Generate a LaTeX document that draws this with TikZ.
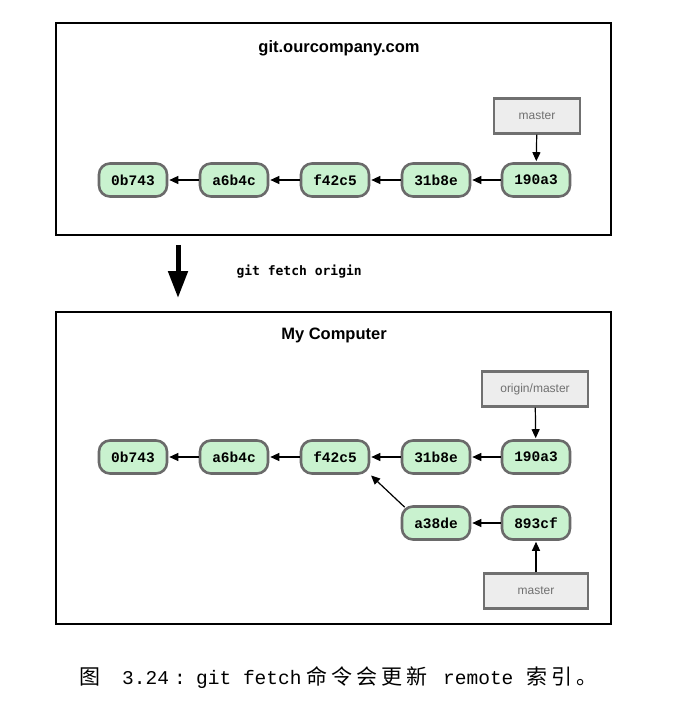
\documentclass[tikz,border=0pt]{standalone}
\usepackage{fontspec}
\setmainfont{Liberation Serif}
\newfontfamily\sansf{Liberation Sans}
\newfontfamily\commitf{Liberation Mono}
\newfontfamily\cmdf{DejaVu Sans Mono}
\newfontfamily\cjkf{Noto Sans CJK SC}
\usetikzlibrary{arrows.meta}
\definecolor{commitfill}{HTML}{C9F2CF}
\definecolor{commitdraw}{HTML}{6A6A6A}
\definecolor{reffill}{HTML}{EDEDED}
\definecolor{refdraw}{HTML}{707070}
\definecolor{reftext}{HTML}{707070}
\newcommand\cg{\hspace{4pt}}
\tikzset{
  commit/.style={draw=commitdraw, fill=commitfill, line width=2.6pt, rounded corners=11pt,
    minimum width=68pt, minimum height=33pt, inner sep=0pt,
    font=\commitf\bfseries\fontsize{14.5}{15}\selectfont},
  ref/.style={draw=refdraw, fill=reffill, line width=2.2pt, minimum height=35pt, inner sep=0pt,
    text=reftext, font=\sansf\fontsize{12}{13}\selectfont},
  frame/.style={draw=black, line width=1.6pt},
  title/.style={font=\sansf\bfseries\fontsize{16.5}{18}\selectfont},
  link/.style={-{Triangle[length=9pt,width=8pt]}, line width=1.2pt, shorten >=1pt},
  capl/.style={anchor=base west, inner sep=0pt, font=\commitf\fontsize{19.5}{22}\selectfont},
  capc/.style={anchor=base west, inner sep=0pt, font=\cjkf\fontsize{21}{22}\selectfont},
}
\begin{document}
\begin{tikzpicture}[x=1pt,y=-1pt]
\useasboundingbox (0,0) rectangle (674,708);
% top box
\node[frame, minimum width=555pt, minimum height=212pt, inner sep=0pt] (top) at (333.5,129) {};
\node[title] (t1) at (339,48) {git.ourcompany.com};
\node[commit] (a1) at (133,180) {0b743};
\node[commit] (b1) at (234,180) {a6b4c};
\node[commit] (c1) at (335,180) {f42c5};
\node[commit] (d1) at (436,180) {31b8e};
\node[commit] (e1) at (536,180) {190a3};
\node[ref, minimum width=86pt] (m1) at (537,116) {master};
\draw[link] (b1) -- (a1);
\draw[link] (c1) -- (b1);
\draw[link] (d1) -- (c1);
\draw[link] (e1) -- (d1);
\draw[link] (m1) -- (e1);
% middle arrow
\coordinate (s) at (178,245);
\coordinate (t) at (178,298);
\draw[-{Triangle[length=27pt,width=19pt]}, line width=5pt] (s) -- (t);
\node[font=\cmdf\bfseries\fontsize{13}{14}\selectfont, anchor=west] (cmd) at (233,272) {git fetch origin};
% bottom box
\node[frame, minimum width=555pt, minimum height=312pt, inner sep=0pt] (bot) at (333.5,468) {};
\node[title] (t2) at (334,335) {My Computer};
\node[commit] (a2) at (133,457) {0b743};
\node[commit] (b2) at (234,457) {a6b4c};
\node[commit] (c2) at (335,457) {f42c5};
\node[commit] (d2) at (436,457) {31b8e};
\node[commit] (e2) at (536,457) {190a3};
\node[commit] (f2) at (436,523) {a38de};
\node[commit] (g2) at (536,523) {893cf};
\node[ref, minimum width=106pt] (om) at (535,389) {origin/master};
\node[ref, minimum width=104pt] (m2) at (536,591) {master};
\draw[link] (b2) -- (a2);
\draw[link] (c2) -- (b2);
\draw[link] (d2) -- (c2);
\draw[link] (e2) -- (d2);
\draw[link] (om) -- (e2);
\draw[link] (g2) -- (f2);
\draw[link] (m2) -- (g2);
\draw[link] (f2.north west) ++(4,2) coordinate (fs) (fs) -- (c2.south east);
% caption
\node[capc] (cap1) at (79,684) {图};
\node[capl] (cap2) at (122,684) {3.24};
\node[capl] (cap3) at (174,684) {:};
\node[capl] (cap4) at (196,684) {git fetch};
\node[capc] (cap5) at (306,684) {命\cg 令\cg 会\cg 更\cg 新};
\node[capl] (cap6) at (443,684) {remote};
\node[capc] (cap7) at (526,684) {索\cg 引\cg 。};
\end{tikzpicture}
\end{document}
